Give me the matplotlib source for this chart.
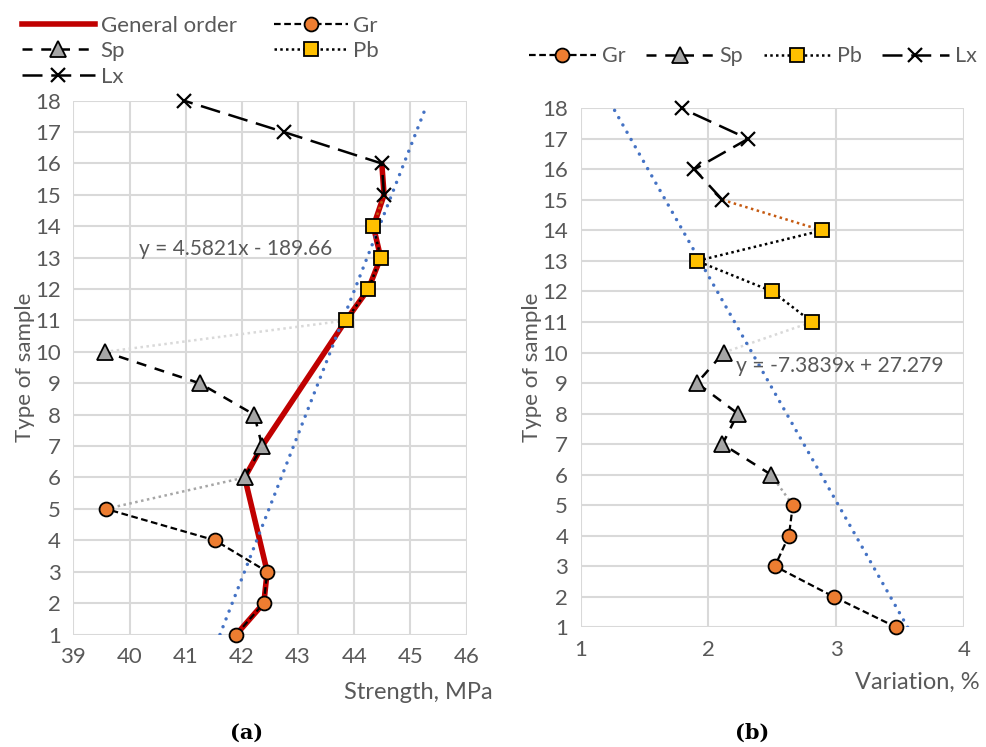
import numpy as np
import matplotlib
matplotlib.use("Agg")
import matplotlib.pyplot as plt
from matplotlib.lines import Line2D

plt.rcParams['font.family'] = ['Lato', 'DejaVu Sans']

# sample numbers per group
gr_y = [1, 2, 3, 4, 5]
sp_y = [6, 7, 8, 9, 10]
pb_y = [11, 12, 13, 14]
lx_y = [15, 16, 17, 18]

# (a) strength, MPa
gr_str = [41.90, 42.39, 42.45, 41.52, 39.58]
sp_str = [42.05, 42.36, 42.22, 41.25, 39.56]
pb_str = [43.85, 44.25, 44.47, 44.34]
lx_str = [44.53, 44.49, 42.75, 40.97]

# general order of strength (sample, value)
gen_y = [1, 2, 3, 6, 7, 11, 12, 13, 14, 15, 16]
gen_str = [41.90, 42.39, 42.45, 42.05, 42.36, 43.85, 44.25, 44.47, 44.34, 44.53, 44.49]

# (b) variation, %
gr_var = [3.47, 2.98, 2.52, 2.63, 2.66]
sp_var = [2.49, 2.11, 2.23, 1.91, 2.12]
pb_var = [2.81, 2.50, 1.91, 2.89]
lx_var = [2.11, 1.89, 2.31, 1.79]

# linear trendlines  x = (y - b) / a
trend_a = (4.5821, -189.66)
trend_b = (-7.3839, 27.279)

TXT = '#595959'
GRID = '#D9D9D9'
FS = 16

gr_style = dict(color='black', lw=1.6, ls=(0, (3, 1.6)), marker='o', mfc='#ED7D31',
                mec='black', mew=1.3, ms=10)
sp_style = dict(color='black', lw=1.8, ls=(0, (4, 3.5)), marker='^', mfc='#A5A5A5',
                mec='black', mew=1.3, ms=11)
pb_style = dict(color='black', lw=1.8, ls=(0, (1, 1.3)), marker='s', mfc='#FFC000',
                mec='black', mew=1.3, ms=9.5)
lx_style = dict(color='black', lw=1.8, ls=(0, (8, 3.5)), marker='x', mec='black',
                mew=1.6, ms=10)

fig = plt.figure(figsize=(9.87, 7.47), dpi=100)
axA = fig.add_axes([0.0743, 0.1506, 0.3985, 0.7146])
axB = fig.add_axes([0.5883, 0.1603, 0.3884, 0.6947])


def connect(ax, xs, ys, color):
    ax.plot(xs, ys, color=color, lw=1.8, ls=(0, (1, 1.4)), zorder=2)


def style_axes(ax, xlim, xticks, xlabel, xlabel_x, xlabel_y):
    ax.set_xlim(*xlim)
    ax.set_ylim(1, 18)
    ax.set_xticks(xticks)
    ax.set_yticks(range(1, 19))
    for s in ax.spines.values():
        s.set_visible(False)
    ax.grid(True, color=GRID, lw=1.5)
    ax.set_axisbelow(True)
    ax.tick_params(length=0, labelsize=FS, labelcolor=TXT, pad=9)
    ax.set_ylabel('Type of sample', fontsize=FS, color=TXT, labelpad=0)
    ax.set_xlabel(xlabel, fontsize=17, color=TXT, ha='right', va='center')
    ax.xaxis.set_label_coords(xlabel_x, xlabel_y)


# ---- (a) ----
axA.plot(gen_str, gen_y, color='#C00000', lw=4, zorder=1, solid_capstyle='round')
connect(axA, [gr_str[-1], sp_str[0]], [5, 6], '#A6A6A6')
connect(axA, [sp_str[-1], pb_str[0]], [10, 11], '#D9D9D9')
connect(axA, [pb_str[-1], lx_str[0]], [14, 15], '#C55A11')
for xs, ys, st in [(gr_str, gr_y, gr_style), (sp_str, sp_y, sp_style),
                   (pb_str, pb_y, pb_style), (lx_str, lx_y, lx_style)]:
    axA.plot(xs, ys, zorder=4, clip_on=False, **st)
ya = np.array([1.0, 17.86])
axA.plot((ya - trend_a[1]) / trend_a[0], ya, color='#4472C4', lw=2.5,
         ls=(0, (0.01, 2.4)), dash_capstyle='round', zorder=3)
axA.text(41.88, 13.28, 'y = 4.5821x - 189.66', fontsize=15, color=TXT,
         ha='center', va='center')
style_axes(axA, (39, 46), range(39, 47), 'Strength, MPa', 1.066, -0.108)

# ---- (b) ----
connect(axB, [gr_var[-1], sp_var[0]], [5, 6], '#A6A6A6')
connect(axB, [sp_var[-1], pb_var[0]], [10, 11], '#D9D9D9')
connect(axB, [pb_var[-1], lx_var[0]], [14, 15], '#C55A11')
for xs, ys, st in [(gr_var, gr_y, gr_style), (sp_var, sp_y, sp_style),
                   (pb_var, pb_y, pb_style), (lx_var, lx_y, lx_style)]:
    axB.plot(xs, ys, zorder=4, clip_on=False, **st)
yb = np.array([1.0, 18.0])
axB.plot((yb - trend_b[1]) / trend_b[0], yb, color='#4472C4', lw=2.5,
         ls=(0, (0.01, 2.4)), dash_capstyle='round', zorder=3)
axB.text(3.03, 9.56, 'y = -7.3839x + 27.279', fontsize=15.2, color=TXT,
         ha='center', va='center')
style_axes(axB, (1, 4), [1, 2, 3, 4], 'Variation, %', 1.04, -0.107)

# ---- legends ----
h_gen = Line2D([], [], color='#C00000', lw=4)
h_gr = Line2D([], [], **gr_style)
h_sp = Line2D([], [], **sp_style)
h_pb = Line2D([], [], **pb_style)
h_lx = Line2D([], [], **lx_style)

legA = fig.legend([h_gen, h_sp, h_lx, h_gr, h_pb],
                  ['General order', 'Sp', 'Lx', 'Gr', 'Pb'],
                  ncol=2, loc='upper left', bbox_to_anchor=(0.022, 0.979),
                  frameon=False, fontsize=FS, handlelength=3.3, numpoints=1,
                  handletextpad=0.25, columnspacing=1.7, labelspacing=0.25,
                  borderpad=0, borderaxespad=0)
for t in legA.get_texts():
    t.set_color(TXT)

legB = fig.legend([h_gr, h_sp, h_pb, h_lx], ['Gr', 'Sp', 'Pb', 'Lx'],
                  ncol=4, loc='upper left', bbox_to_anchor=(0.536, 0.938),
                  frameon=False, fontsize=15.5, handlelength=3.1, numpoints=1,
                  handletextpad=0.3, columnspacing=0.95,
                  borderpad=0, borderaxespad=0)
for t in legB.get_texts():
    t.set_color(TXT)

# panel captions
fig.text(247 / 987, 1 - 733 / 747, '(a)', fontsize=15, fontweight='bold',
         family='DejaVu Serif', ha='center', va='center')
fig.text(752 / 987, 1 - 733 / 747, '(b)', fontsize=15, fontweight='bold',
         family='DejaVu Serif', ha='center', va='center')

fig.savefig('out.png', dpi=100)
